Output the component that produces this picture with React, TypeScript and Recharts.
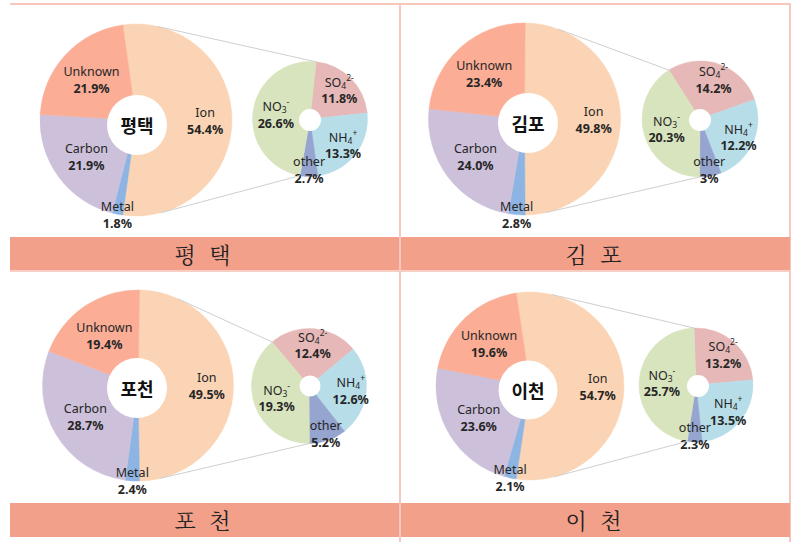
import React from "react";
import { PieChart, Pie, Cell } from "recharts";

const SITES = ["평택", "김포", "포천", "이천"];

// PM composition (%), clockwise starting with the Ion slice
const MAIN_NAMES = ["Ion", "Metal", "Carbon", "Unknown"];
const PT_MAIN = [54.4, 1.8, 21.9, 21.9];
const GP_MAIN = [49.8, 2.8, 24.0, 23.4];
const PC_MAIN = [49.5, 2.4, 28.7, 19.4];
const IC_MAIN = [54.7, 2.1, 23.6, 19.6];

// ion breakdown (% of total), clockwise starting with SO4
const ION_NAMES = ["SO_4^2-", "NH_4^+", "other", "NO_3^-"];
const PT_ION = [11.8, 13.3, 2.7, 26.6];
const GP_ION = [14.2, 12.2, 3, 20.3];
const PC_ION = [12.4, 12.6, 5.2, 19.3];
const IC_ION = [13.2, 13.5, 2.3, 25.7];

const MAIN_COLORS = ["#FAD4B4", "#8DB4E2", "#CCC0DA", "#FBAD96"];
const ION_COLORS = ["#E6B8B7", "#B7DEE8", "#95A5D0", "#D7E4BD"];

// how far out (fraction of radius) each slice label sits
const MAIN_LABEL_R = [0.72, 1.0, 0.64, 0.63];
const ION_LABEL_R = [0.72, 0.73, 0.88, 0.6];

const PANELS = [
  { main: PT_MAIN, ion: PT_ION, big: { cx: 136, cy: 120, r: 96 }, hole: { cx: 137, cy: 125, r: 30 }, small: { cx: 310, cy: 119, r: 57.5 }, smallHole: { cx: 310, cy: 120, r: 11 }, smallStart: 84, bar: { x: 10, y: 236.5 } },
  { main: GP_MAIN, ion: GP_ION, big: { cx: 524.5, cy: 119, r: 96 }, hole: { cx: 528, cy: 123, r: 30 }, small: { cx: 700, cy: 119, r: 58 }, smallHole: { cx: 700, cy: 120, r: 11 }, smallStart: 122.5, bar: { x: 401, y: 236.5 } },
  { main: PC_MAIN, ion: PC_ION, big: { cx: 138, cy: 385.5, r: 95.5 }, hole: { cx: 137, cy: 388, r: 30 }, small: { cx: 309, cy: 386, r: 57.5 }, smallHole: { cx: 310, cy: 386, r: 10.5 }, smallStart: 130, bar: { x: 10, y: 503 } },
  { main: IC_MAIN, ion: IC_ION, big: { cx: 530, cy: 386, r: 94 }, hole: { cx: 528, cy: 390, r: 29.5 }, small: { cx: 696, cy: 385, r: 57 }, smallHole: { cx: 698, cy: 386, r: 11 }, smallStart: 92, bar: { x: 401, y: 503 } },
];

const LATIN = "'Noto Sans', 'Noto Sans CJK KR', sans-serif";
const HANGUL = "'Noto Sans CJK KR', sans-serif";

// "3" stays "3%" like the source, everything else one decimal
const fmt = (v: number) => (Number.isInteger(v) && v < 10 ? `${v}%` : `${v.toFixed(1)}%`);

const renderName = (name: string) => {
  const m = /^([A-Za-z]+)_(\d)\^(.+)$/.exec(name);
  if (!m) return name;
  return [
    <tspan key="b">{m[1]}</tspan>,
    <tspan key="s" dy={3} fontSize={8.5}>{m[2]}</tspan>,
    <tspan key="p" dy={-8} fontSize={8.5}>{m[3]}</tspan>,
  ];
};

const makeLabel = (names: string[], factors: number[], geo: { cx: number; cy: number; r: number }) => (props: any) => {
  const { midAngle, index, value } = props;
  const r = geo.r * factors[index];
  const rad = (-midAngle * Math.PI) / 180;
  const x = geo.cx + r * Math.cos(rad);
  const y = geo.cy + r * Math.sin(rad);
  return (
    <g key={`lbl-${index}`}>
      <text x={x} y={y - 8} textAnchor="middle" dominantBaseline="central" fontSize={12.5} fontFamily={LATIN} fill="#262626">
        {renderName(names[index])}
      </text>
      <text x={x} y={y + 9} textAnchor="middle" dominantBaseline="central" fontSize={12.5} fontWeight="bold" fontFamily={LATIN} fill="#262626">
        {fmt(value)}
      </text>
    </g>
  );
};

const sum = (a: number[]) => a.reduce((s, v) => s + v, 0);

// tangent point on circle C seen from point P
function tangentPoint(C: { cx: number; cy: number; r: number }, P: { x: number; y: number }, upper: boolean) {
  const dx = P.x - C.cx;
  const dy = C.cy - P.y;
  const d = Math.hypot(dx, dy);
  const phi = Math.atan2(dy, dx);
  const a = Math.acos(C.r / d);
  const t = upper ? phi + a : phi - a;
  return { x: C.cx + C.r * Math.cos(t), y: C.cy - C.r * Math.sin(t) };
}

const onCircle = (C: { cx: number; cy: number; r: number }, deg: number) => ({
  x: C.cx + C.r * Math.cos((deg * Math.PI) / 180),
  y: C.cy - C.r * Math.sin((deg * Math.PI) / 180),
});

export default function App() {
  return (
    <div style={{ position: "absolute", left: 0, top: 0, width: 800, height: 542, background: "#fff", overflow: "hidden" }}>
      {/* table frame */}
      <div style={{ position: "absolute", left: 10, top: 3, width: 780, height: 2, background: "#F9C6BA" }} />
      <div style={{ position: "absolute", left: 10, top: 270, width: 780, height: 2, background: "#F9CFC5" }} />
      <div style={{ position: "absolute", left: 399, top: 3, width: 2, height: 539, background: "#F6C8C0" }} />
      <div style={{ position: "absolute", left: 789, top: 3, width: 1.5, height: 539, background: "#F6C8C0" }} />
      {PANELS.map((p, i) => (
        <div
          key={`bar-${i}`}
          style={{
            position: "absolute",
            left: p.bar.x,
            top: p.bar.y,
            width: 389,
            height: 33.5,
            background: "#F3A08B",
            display: "flex",
            alignItems: "center",
            justifyContent: "center",
            fontFamily: "'Noto Serif CJK KR', 'Noto Sans CJK KR', serif",
            fontSize: 22,
            letterSpacing: 4,
            whiteSpace: "pre",
            color: "#222",
          }}
        >
          {SITES[i].split("").join(" ")}
        </div>
      ))}

      <PieChart width={800} height={542} margin={{ top: 0, right: 0, bottom: 0, left: 0 }} style={{ position: "absolute", left: 0, top: 0 }}>
        {PANELS.map((p, i) => {
          const mainData = p.main.map((v, k) => ({ name: MAIN_NAMES[k], value: v }));
          const ionData = p.ion.map((v, k) => ({ name: ION_NAMES[k], value: v }));
          // Ion slice is centred on 3 o'clock
          const bigStart = (p.main[0] / sum(p.main)) * 180;
          return [
            <Pie
              key={`big-${i}`}
              data={mainData}
              dataKey="value"
              cx={p.big.cx}
              cy={p.big.cy}
              outerRadius={p.big.r}
              innerRadius={0}
              startAngle={bigStart}
              endAngle={bigStart - 360}
              isAnimationActive={false}
              labelLine={false}
              label={makeLabel(MAIN_NAMES, MAIN_LABEL_R, p.big)}
            >
              {mainData.map((d, k) => (
                <Cell key={`m-${k}`} fill={MAIN_COLORS[k]} stroke={MAIN_COLORS[k]} strokeWidth={0.5} />
              ))}
            </Pie>,
            <Pie
              key={`small-${i}`}
              data={ionData}
              dataKey="value"
              cx={p.small.cx}
              cy={p.small.cy}
              outerRadius={p.small.r}
              innerRadius={0}
              startAngle={p.smallStart}
              endAngle={p.smallStart - 360}
              isAnimationActive={false}
              labelLine={false}
              label={makeLabel(ION_NAMES, ION_LABEL_R, p.small)}
            >
              {ionData.map((d, k) => (
                <Cell key={`n-${k}`} fill={ION_COLORS[k]} stroke={ION_COLORS[k]} strokeWidth={0.5} />
              ))}
            </Pie>,
          ];
        })}
      </PieChart>

      <svg width={800} height={542} style={{ position: "absolute", left: 0, top: 0, pointerEvents: "none" }}>
        {PANELS.map((p, i) => {
          const ionTotal = sum(p.ion);
          const top = onCircle(p.small, p.smallStart);
          const bottom = onCircle(p.small, p.smallStart - (360 * sum(p.ion.slice(0, 3))) / ionTotal);
          const t1 = tangentPoint(p.big, top, true);
          const t2 = tangentPoint(p.big, bottom, false);
          return (
            <g key={`ov-${i}`}>
              <line x1={t1.x} y1={t1.y} x2={top.x} y2={top.y} stroke="#CFCFCF" strokeWidth={1} />
              <line x1={t2.x} y1={t2.y} x2={bottom.x} y2={bottom.y} stroke="#CFCFCF" strokeWidth={1} />
              <circle cx={p.hole.cx} cy={p.hole.cy} r={p.hole.r} fill="#fff" />
              <circle cx={p.smallHole.cx} cy={p.smallHole.cy} r={p.smallHole.r} fill="#fff" />
              <text x={p.hole.cx} y={p.hole.cy} textAnchor="middle" dominantBaseline="central" fontFamily={HANGUL} fontWeight="bold" fontSize={18} fill="#111">
                {SITES[i]}
              </text>
            </g>
          );
        })}
      </svg>
    </div>
  );
}
